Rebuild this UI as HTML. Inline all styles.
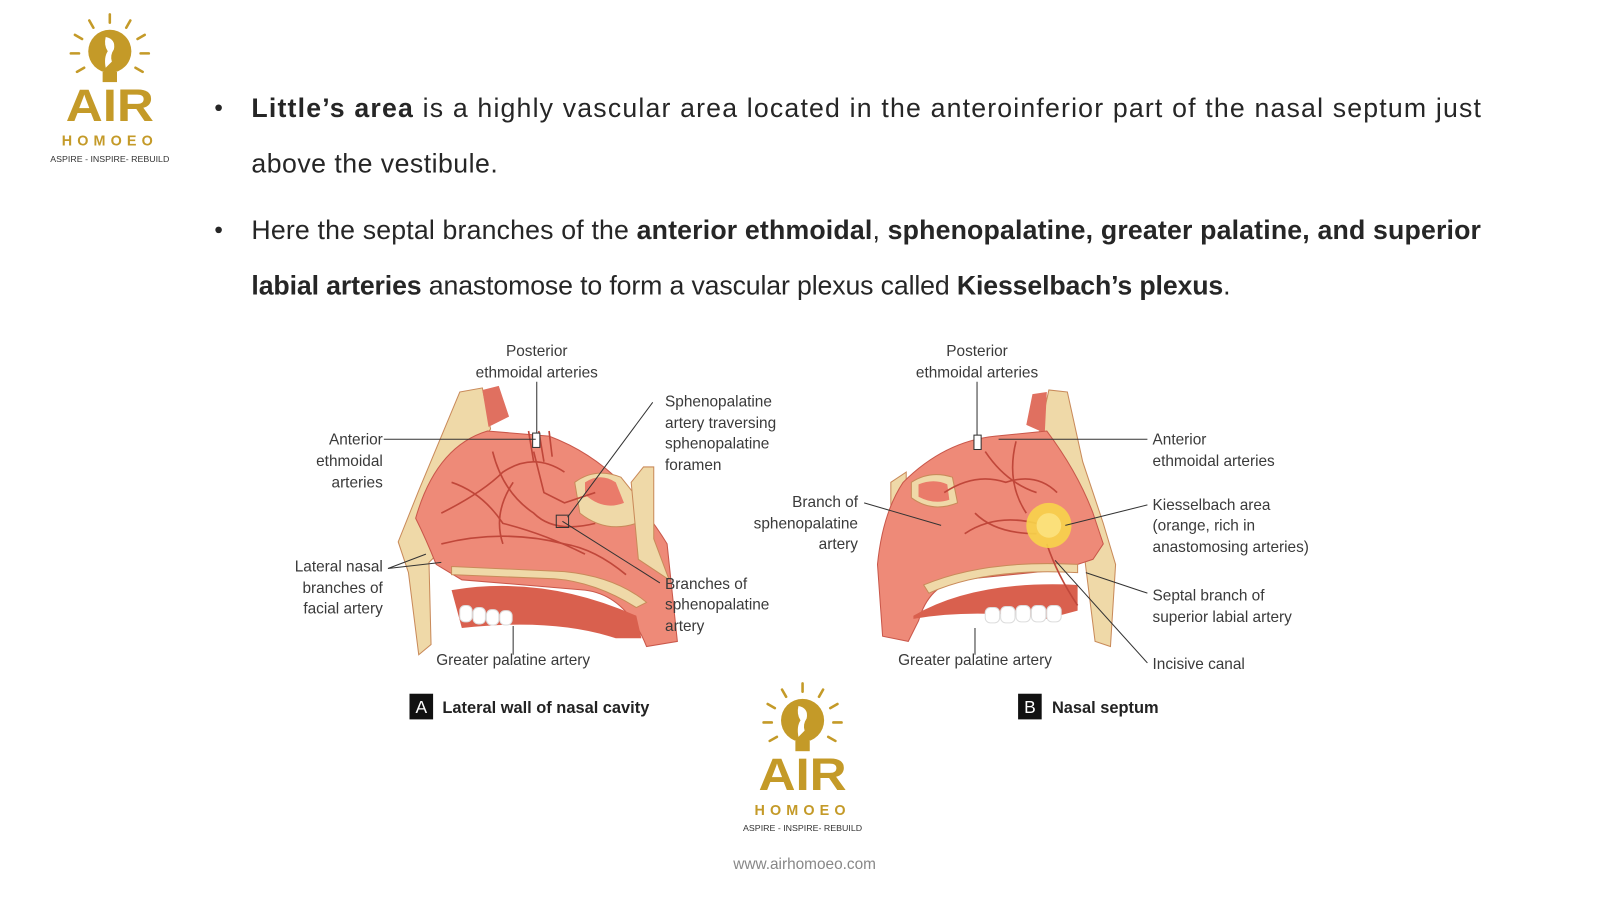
<!DOCTYPE html>
<html><head><meta charset="utf-8"><style>
html,body{margin:0;padding:0;background:#fff;width:1600px;height:900px;overflow:hidden}
svg{display:block}
.b{font-family:"Liberation Sans",sans-serif;font-size:26px;fill:#262626}
.l{font-family:"Liberation Sans",sans-serif;font-size:15px;fill:#3a3a3a}
.ln{stroke:#333;stroke-width:1;fill:none}
.g{fill:#c49a28}
</style></head><body>
<svg width="1600" height="900" viewBox="0 0 1559 877" preserveAspectRatio="none" xmlns="http://www.w3.org/2000/svg">
<defs>
<g id="logo">
  <g stroke="#c49a28" stroke-width="2.5" stroke-linecap="round">
    <line x1="0" y1="-42" x2="0" y2="-34"/>
    <line x1="-20" y1="-36" x2="-16" y2="-29"/><line x1="20" y1="-36" x2="16" y2="-29"/>
    <line x1="-34" y1="-22" x2="-27" y2="-18"/><line x1="34" y1="-22" x2="27" y2="-18"/>
    <line x1="-38" y1="-4" x2="-30" y2="-4"/><line x1="38" y1="-4" x2="30" y2="-4"/>
    <line x1="-32" y1="14" x2="-25" y2="10"/><line x1="32" y1="14" x2="25" y2="10"/>
  </g>
  <circle cx="0" cy="-6" r="21" class="g"/>
  <path d="M-4,-20 q10,2 8,12 q-4,6 -2,12 l-6,6 q-2,-10 2,-16 q-4,-6 -2,-14z" fill="#fff"/>
  <rect x="-7" y="14" width="14" height="10" class="g"/>
  <text x="0" y="62" text-anchor="middle" font-family="Liberation Sans,sans-serif" font-weight="bold" font-size="44" class="g" textLength="86" lengthAdjust="spacingAndGlyphs">AIR</text>
  <text x="0" y="86" text-anchor="middle" font-family="Liberation Sans,sans-serif" font-weight="bold" font-size="14" class="g" letter-spacing="5">HOMOEO</text>
  <text x="0" y="102" text-anchor="middle" font-family="Liberation Sans,sans-serif" font-size="8" fill="#333" textLength="116" lengthAdjust="spacingAndGlyphs">ASPIRE - INSPIRE- REBUILD</text>
</g>
</defs>

<use href="#logo" transform="translate(107,56)"/>
<use href="#logo" transform="translate(782,708)"/>
<text x="784" y="847" text-anchor="middle" font-family="Liberation Sans,sans-serif" font-size="15" fill="#888">www.airhomoeo.com</text>

<!-- bullets -->
<circle cx="213" cy="105" r="3.2" fill="#262626"/>
<circle cx="213" cy="224" r="3.2" fill="#262626"/>
<text class="b" x="245" y="114" textLength="1198" lengthAdjust="spacing"><tspan font-weight="bold">Little’s area</tspan> is a highly vascular area located in the anteroinferior part of the nasal septum just</text>
<text class="b" x="245" y="168" textLength="240" lengthAdjust="spacing">above the vestibule.</text>
<text class="b" x="245" y="233" textLength="1198" lengthAdjust="spacing">Here the septal branches of the <tspan font-weight="bold">anterior ethmoidal</tspan>, <tspan font-weight="bold">sphenopalatine, greater palatine, and superior</tspan></text>
<text class="b" x="245" y="287" textLength="954" lengthAdjust="spacing"><tspan font-weight="bold">labial arteries</tspan> anastomose to form a vascular plexus called <tspan font-weight="bold">Kiesselbach’s plexus</tspan>.</text>

<!-- Diagram A -->
<g>
  <path d="M448,382 l22,-4 l8,40 l-50,70 l-10,30 l10,20 l-10,10 l2,80 l-12,10 l-10,-80 l-10,-30 l20,-50 z" fill="#efd9a8" stroke="#c98a5a"/>
  <path d="M470,380 l16,-4 l10,30 l-20,10 z" fill="#e07060"/>
  <path d="M405,505 q20,-70 70,-85 l60,5 q40,15 70,45 q30,35 45,60 l10,95 l-30,5 q-20,-50 -60,-55 l-120,-10 l-25,-15 q-10,-25 -20,-45z" fill="#ee8a78" stroke="#c9574a"/>
  <path d="M560,470 q20,-15 45,-5 l20,25 l-5,20 q-30,10 -55,-10z" fill="#efd9a8" stroke="#c98a5a"/>
  <path d="M570,470 q15,-10 30,0 l8,20 q-20,8 -38,-8z" fill="#ea7b6a"/>
  <path d="M615,470 l12,-15 l10,0 l0,70 l15,40 l-30,-20 z" fill="#efd9a8" stroke="#c98a5a"/>
  <path d="M440,552 l110,5 q50,5 80,30 l-10,5 q-40,-25 -80,-28 l-100,-4z" fill="#efd9a8" stroke="#c98a5a"/>
  <path d="M440,575 q90,-15 180,25 l5,22 l-25,0 q-60,-20 -150,-10z" fill="#d9604e"/>
  <g fill="#fff" stroke="#ddd"><rect x="448" y="590" width="12" height="16" rx="5"/><rect x="461" y="592" width="12" height="16" rx="5"/><rect x="474" y="594" width="12" height="15" rx="5"/><rect x="487" y="595" width="12" height="14" rx="5"/></g>
  <g stroke="#c0473a" stroke-width="1.6" fill="none">
    <path d="M430,500 q40,-20 60,-40 q30,-20 60,0"/><path d="M440,470 q30,10 50,40 q40,10 80,30"/>
    <path d="M480,440 q10,40 40,60 q20,20 60,10"/><path d="M520,440 l10,40 l20,10 l30,-10"/>
    <path d="M430,530 q60,-15 120,0 q30,5 60,30"/><path d="M500,470 q-20,30 -10,60"/>
    <path d="M515,420 l5,30 m5,-30 l5,30 m5,-30 l3,25"/>
  </g>
  <rect x="519" y="422" width="7" height="14" fill="#fff" stroke="#333"/>
  <rect x="542" y="502" width="12" height="12" fill="none" stroke="#333"/>
  <path class="ln" d="M523,372 v50 M374,428 h148 M636,392 l-83,112 M548,508 l95,60 M415,540 l-37,14 M430,548 l-52,6 M500,610 v28"/>
  <text class="l" text-anchor="middle" x="523" y="347">Posterior</text>
  <text class="l" text-anchor="middle" x="523" y="368">ethmoidal arteries</text>
  <text class="l" text-anchor="end" x="373" y="433">Anterior</text>
  <text class="l" text-anchor="end" x="373" y="454">ethmoidal</text>
  <text class="l" text-anchor="end" x="373" y="475">arteries</text>
  <text class="l" x="648" y="396">Sphenopalatine</text>
  <text class="l" x="648" y="417">artery traversing</text>
  <text class="l" x="648" y="437">sphenopalatine</text>
  <text class="l" x="648" y="458">foramen</text>
  <text class="l" text-anchor="end" x="373" y="557">Lateral nasal</text>
  <text class="l" text-anchor="end" x="373" y="578">branches of</text>
  <text class="l" text-anchor="end" x="373" y="598">facial artery</text>
  <text class="l" x="648" y="574">Branches of</text>
  <text class="l" x="648" y="594">sphenopalatine</text>
  <text class="l" x="648" y="615">artery</text>
  <text class="l" text-anchor="middle" x="500" y="648">Greater palatine artery</text>
  <rect x="399" y="676" width="23" height="25" fill="#111"/>
  <text x="410.5" y="695" text-anchor="middle" font-family="Liberation Sans,sans-serif" font-size="17" fill="#fff">A</text>
  <text x="431" y="695" font-family="Liberation Sans,sans-serif" font-size="16" font-weight="bold" fill="#222">Lateral wall of nasal cavity</text>
</g>

<!-- Diagram B -->
<g>
  <path d="M1040,382 l-18,-2 l-10,45 l40,60 l10,30 l-5,30 l10,80 l15,5 l5,-80 l-12,-40 l-20,-60 z" fill="#efd9a8" stroke="#c98a5a"/>
  <path d="M1020,382 l-14,2 l-6,30 l18,8 z" fill="#e07060"/>
  <path d="M868,470 l15,-10 l0,70 l-15,20 z" fill="#efd9a8" stroke="#c98a5a"/>
  <path d="M880,470 q40,-40 90,-45 l50,-5 q30,40 45,80 l10,30 l-10,15 l-30,10 l-100,10 q-30,5 -40,40 l-10,20 l-25,-5 l-5,-70 q5,-50 25,-80z" fill="#ee8a78" stroke="#c9574a"/>
  <path d="M888,470 q18,-12 40,-5 l5,25 q-25,10 -45,-5z" fill="#efd9a8" stroke="#c98a5a"/>
  <path d="M895,472 q15,-6 28,0 l2,15 q-15,5 -30,-3z" fill="#ea7b6a"/>
  <path d="M900,570 q60,-25 150,-20 l0,8 q-90,-5 -145,20z" fill="#efd9a8" stroke="#c98a5a"/>
  <path d="M890,600 q60,-35 160,-30 l0,25 l-30,8 q-70,-10 -130,0z" fill="#d9604e"/>
  <g fill="#fff" stroke="#ddd"><rect x="960" y="592" width="14" height="15" rx="5"/><rect x="975" y="591" width="14" height="16" rx="5"/><rect x="990" y="590" width="14" height="16" rx="5"/><rect x="1005" y="590" width="14" height="16" rx="5"/><rect x="1020" y="590" width="14" height="16" rx="5"/></g>
  <g stroke="#c0473a" stroke-width="1.6" fill="none">
    <path d="M920,480 q30,-20 60,-10 q30,-10 50,10"/><path d="M940,520 q30,-20 70,-10"/>
    <path d="M960,440 q20,30 50,40"/><path d="M990,430 q-10,40 10,70"/><path d="M950,500 q20,20 60,20"/>
    <path d="M1020,530 q10,30 30,60"/>
  </g>
  <circle cx="1022" cy="512" r="22" fill="#f7d34a" opacity="0.9"/>
  <circle cx="1022" cy="512" r="12" fill="#fbe07a"/>
  <rect x="949" y="424" width="7" height="14" fill="#fff" stroke="#333"/>
  <path class="ln" d="M952,372 v52 M1118,428 h-145 M1118,492 l-80,20 M842,490 l75,22 M1118,578 l-60,-20 M1118,646 l-90,-100 M950,612 v26"/>
  <text class="l" text-anchor="middle" x="952" y="347">Posterior</text>
  <text class="l" text-anchor="middle" x="952" y="368">ethmoidal arteries</text>
  <text class="l" x="1123" y="433">Anterior</text>
  <text class="l" x="1123" y="454">ethmoidal arteries</text>
  <text class="l" x="1123" y="497">Kiesselbach area</text>
  <text class="l" x="1123" y="517">(orange, rich in</text>
  <text class="l" x="1123" y="538">anastomosing arteries)</text>
  <text class="l" text-anchor="end" x="836" y="494">Branch of</text>
  <text class="l" text-anchor="end" x="836" y="515">sphenopalatine</text>
  <text class="l" text-anchor="end" x="836" y="535">artery</text>
  <text class="l" x="1123" y="585">Septal branch of</text>
  <text class="l" x="1123" y="606">superior labial artery</text>
  <text class="l" x="1123" y="652">Incisive canal</text>
  <text class="l" text-anchor="middle" x="950" y="648">Greater palatine artery</text>
  <rect x="992" y="676" width="23" height="25" fill="#111"/>
  <text x="1003.5" y="695" text-anchor="middle" font-family="Liberation Sans,sans-serif" font-size="17" fill="#fff">B</text>
  <text x="1025" y="695" font-family="Liberation Sans,sans-serif" font-size="16" font-weight="bold" fill="#222">Nasal septum</text>
</g>
</svg>
</body></html>
